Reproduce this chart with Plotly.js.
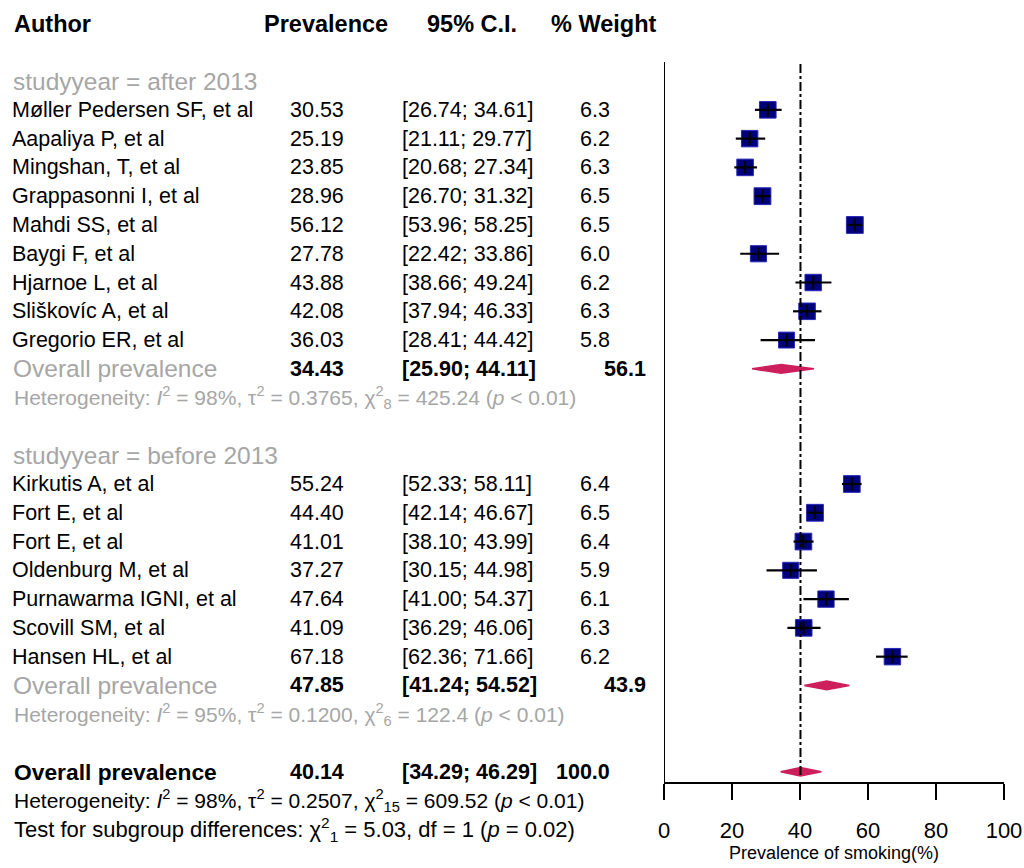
<!DOCTYPE html>
<html><head><meta charset="utf-8">
<script src="https://cdn.plot.ly/plotly-3.0.1.min.js"></script>
<style>html,body{margin:0;padding:0;background:#fff}</style>
</head><body><div id="chart" style="width:1024px;height:868px"></div>
<script>
// ---------- data ----------
const groupLabels = ["studyyear = after 2013", "studyyear = before 2013"];
const authorsAfter = ["Møller Pedersen SF, et al","Aapaliya P, et al","Mingshan, T, et al","Grappasonni I, et al","Mahdi SS, et al","Baygi F, et al","Hjarnoe L, et al","Sliškovíc A, et al","Gregorio ER, et al"];
const prevAfter = [30.53,25.19,23.85,28.96,56.12,27.78,43.88,42.08,36.03];
const loAfter   = [26.74,21.11,20.68,26.70,53.96,22.42,38.66,37.94,28.41];
const hiAfter   = [34.61,29.77,27.34,31.32,58.25,33.86,49.24,46.33,44.42];
const wAfter    = [6.3,6.2,6.3,6.5,6.5,6.0,6.2,6.3,5.8];

const authorsBefore = ["Kirkutis A, et al","Fort E, et al","Fort E, et al","Oldenburg M, et al","Purnawarma IGNI, et al","Scovill SM, et al","Hansen HL, et al"];
const prevBefore = [55.24,44.40,41.01,37.27,47.64,41.09,67.18];
const loBefore   = [52.33,42.14,38.10,30.15,41.00,36.29,62.36];
const hiBefore   = [58.11,46.67,43.99,44.98,54.37,46.06,71.66];
const wBefore    = [6.4,6.5,6.4,5.9,6.1,6.3,6.2];

const summaryLabels = ["Overall prevalence","Overall prevalence","Overall prevalence"];
const summaryEst = [34.43, 47.85, 40.14];
const summaryLo  = [25.90, 41.24, 34.29];
const summaryHi  = [44.11, 54.52, 46.29];
const summaryW   = [56.1, 43.9, 100.0];

const hetTexts = [
  "Heterogeneity: <i>I</i><sup>2</sup> = 98%, τ<sup>2</sup> = 0.3765, χ<sup>2</sup><sub>8</sub> = 425.24 (<i>p</i> &lt; 0.01)",
  "Heterogeneity: <i>I</i><sup>2</sup> = 95%, τ<sup>2</sup> = 0.1200, χ<sup>2</sup><sub>6</sub> = 122.4 (<i>p</i> &lt; 0.01)",
  "Heterogeneity: <i>I</i><sup>2</sup> = 98%, τ<sup>2</sup> = 0.2507, χ<sup>2</sup><sub>15</sub> = 609.52 (<i>p</i> &lt; 0.01)"
];
const testText = "Test for subgroup differences: χ<sup>2</sup><sub>1</sub> = 5.03, df = 1 (<i>p</i> = 0.02)";
const headers = ["Author","Prevalence","95% C.I.","% Weight"];
const tickVals = [0,20,40,60,80,100];
const xTitle = "Prevalence of smoking(%)";

// ---------- layout helpers ----------
const FONT = "Liberation Sans, Arial, sans-serif";
const W = 1024, H = 868;
const GRAY = "#a6a6a6";
const px = v => v / W;
const fmt2 = v => v.toFixed(2);
const ci = (l, h) => "[" + fmt2(l) + "; " + fmt2(h) + "]";

// row numbers
const rowsAfter = authorsAfter.map((_, i) => 3 + i);
const rowsBefore = authorsBefore.map((_, i) => 16 + i);
const groupRows = [2, 15];
const sumRows = [12, 23, 26];
const hetRows = [13, 24, 27];
const testRow = 28;

const ann = [];
function txt(x, y, t, opts) {
  ann.push(Object.assign({xref:"paper", yref:"y", x:px(x), y:y, text:t, showarrow:false,
    xanchor:"left", yanchor:"middle", font:{family:FONT, size:21.5, color:"#000"}}, opts || {}));
}
// headers
const hdrX = [12, 262, 425, 549];
headers.forEach((h, i) => txt(hdrX[i], 0, "<b>" + h + "</b>", {font:{family:FONT, size:23.5, color:"#000"}}));
// group labels
groupLabels.forEach((g, i) => txt(11, groupRows[i], g, {font:{family:FONT, size:24.5, color:GRAY}}));
// studies
function studyRows(auth, prev, lo, hi, w, rows) {
  auth.forEach((a, i) => {
    txt(10, rows[i], a);
    txt(346, rows[i], fmt2(prev[i]), {xanchor:"right"});
    txt(400, rows[i], ci(lo[i], hi[i]));
    txt(612, rows[i], w[i].toFixed(1), {xanchor:"right"});
  });
}
studyRows(authorsAfter, prevAfter, loAfter, hiAfter, wAfter, rowsAfter);
studyRows(authorsBefore, prevBefore, loBefore, hiBefore, wBefore, rowsBefore);
// summaries
summaryLabels.forEach((s, i) => {
  const isSub = i < 2;
  const bf = {family:FONT, size:21.5, color:"#000"};
  if (isSub) txt(11, sumRows[i], s, {font:{family:FONT, size:24.5, color:GRAY}});
  else txt(12, sumRows[i], "<b>" + s + "</b>", {font:{family:FONT, size:22.8, color:"#000"}});
  txt(346, sumRows[i], "<b>" + fmt2(summaryEst[i]) + "</b>", {xanchor:"right", font:bf});
  txt(400, sumRows[i], "<b>" + ci(summaryLo[i], summaryHi[i]) + "</b>", {font:bf});
  txt(isSub ? 648 : 612, sumRows[i], "<b>" + summaryW[i].toFixed(1) + "</b>", {xanchor:"right", font:bf});
});
hetTexts.forEach((h, i) => txt(12, hetRows[i], h, {font:{family:FONT, size:21, color: i < 2 ? GRAY : "#000"}}));
txt(12, testRow, testText, {font:{family:FONT, size:22, color:"#000"}});

// ---------- traces ----------
const prevAll = prevAfter.concat(prevBefore);
const loAll = loAfter.concat(loBefore);
const hiAll = hiAfter.concat(hiBefore);
const wAll = wAfter.concat(wBefore);
const rowsAll = rowsAfter.concat(rowsBefore);

const traces = [];
traces.push({
  type:"scatter", mode:"markers", x:prevAll, y:rowsAll, hoverinfo:"x",
  marker:{symbol:"square", opacity:1, size:wAll.map(w => 6.6*Math.sqrt(w)), color:"#00007a", line:{color:"#2828b8", width:1}},
  showlegend:false
});
traces.push({
  type:"scatter", mode:"markers", x:prevAll, y:rowsAll, hoverinfo:"skip",
  marker:{symbol:"line-ns", opacity:1, size:9, line:{color:"#000", width:2}, color:"#000"},
  error_x:{type:"data", symmetric:false, array:hiAll.map((h,i)=>h-prevAll[i]), arrayminus:prevAll.map((p,i)=>p-loAll[i]), color:"#000", thickness:2.2, width:0},
  showlegend:false
});
const halfH = 0.15;
summaryEst.forEach((e, i) => {
  const r = sumRows[i];
  traces.push({
    type:"scatter", mode:"lines", fill:"toself",
    x:[summaryLo[i], e, summaryHi[i], e, summaryLo[i]],
    y:[r, r - halfH, r, r + halfH, r],
    fillcolor:"#cc1f5c", line:{color:"#cc1f5c", width:1.5}, hoverinfo:"skip", showlegend:false
  });
});

const axisPos = 85 / H;
const layout = {
  width:W, height:H, margin:{l:0, r:0, t:0, b:0},
  paper_bgcolor:"#fff", plot_bgcolor:"rgba(0,0,0,0)",
  showlegend:false,
  xaxis:{domain:[664/W, 1004/W], range:[0,100], anchor:"free", position:axisPos,
    showline:true, linewidth:2, linecolor:"#000", ticks:"outside", ticklen:16, tickwidth:2, tickcolor:"#000",
    ticklabelstandoff:12,
    tickvals:tickVals, ticktext:tickVals.map(String), tickfont:{family:FONT, size:22, color:"#000"},
    showgrid:false, zeroline:false, automargin:false,
    title:{text:xTitle, font:{family:FONT, size:18, color:"#000"}, standoff:0}},
  yaxis:{domain:[0,1], range:[29.343, -0.8166], visible:false, showgrid:false, zeroline:false},
  shapes:[
    {type:"line", xref:"x", yref:"paper", x0:0, x1:0, y0:axisPos, y1:(H-62)/H, line:{color:"#000", width:2}},
    {type:"line", xref:"x", yref:"paper", x0:summaryEst[2], x1:summaryEst[2], y0:(H-775)/H, y1:(H-62)/H, line:{color:"#000", width:2, dash:"dashdot"}}
  ],
  annotations:ann
};
Plotly.newPlot("chart", traces, layout, {displayModeBar:false, staticPlot:true});
</script></body></html>
